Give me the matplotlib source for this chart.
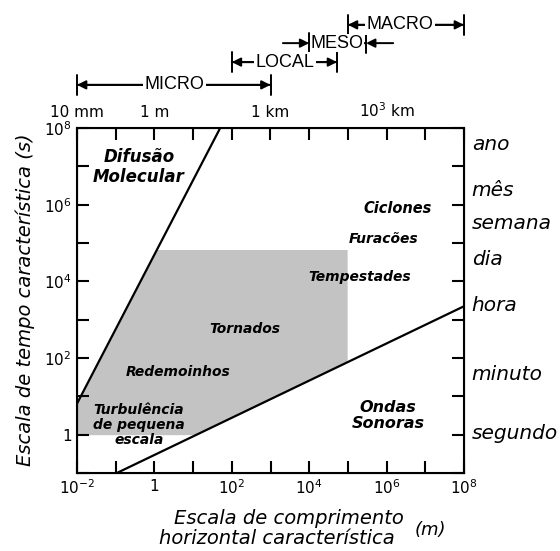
import numpy as np
import matplotlib
matplotlib.use('Agg')
import matplotlib.pyplot as plt
from matplotlib.ticker import NullLocator
import matplotlib.transforms as mtransforms

plt.rcParams['font.family'] = ['DejaVu Sans']

# axes limits (m, s)
XLIM = [1e-2, 1e8]
YLIM = [1e-1, 1e8]

x_decades = [1e-2, 1e-1, 1, 1e1, 1e2, 1e3, 1e4, 1e5, 1e6, 1e7, 1e8]
x_labels = ['$10^{-2}$', '', '1', '', '$10^2$', '', '$10^4$', '', '$10^6$', '', '$10^8$']
y_decades = [1e-1, 1, 1e1, 1e2, 1e3, 1e4, 1e5, 1e6, 1e7, 1e8]
y_labels = ['', '1', '', '$10^2$', '', '$10^4$', '', '$10^6$', '', '$10^8$']
top_labels = ['10 mm', '', '1 m', '', '', '1 km', '', '', '$10^3$ km', '', '']

# right side time names (position in s)
time_names = ['ano', 'mês', 'semana', 'dia', 'hora', 'minuto', 'segundo']
time_pos = [10**7.56, 10**6.38, 10**5.52, 10**4.56, 10**3.38, 10**1.56, 10**0.02]

# boundary lines
diff_L = [1e-2, 10**1.70]
diff_t = [10**0.81, 1e8]
sound_L = [10**-0.97, 1e8]
sound_t = [1e-1, 10**3.35]

# shaded region (atmospheric phenomena)
gray_L = [1e-2, 10**4.98]
gray_t = [1, 10**4.83]

# region names: text, L, t, size
regions = [
    ('Difusão\nMolecular', 10**-0.40, 10**6.98, 12),
    ('Tornados', 10**2.34, 10**2.76, 10),
    ('Redemoinhos', 10**0.61, 10**1.64, 10),
    ('Turbulência\nde pequena\nescala', 10**-0.40, 10**0.25, 10),
    ('Ciclones', 10**6.29, 10**5.91, 10.5),
    ('Furacões', 10**5.91, 10**5.11, 10),
    ('Tempestades', 10**5.31, 10**4.11, 10),
    ('Ondas\nSonoras', 10**6.04, 10**0.49, 11.5),
]

# scale bars: name, start, end, label position, height (axes fraction)
scales = [
    ('MICRO', 1e-2, 1e3, 10**0.52, 1.125),
    ('LOCAL', 1e2, 10**4.72, 10**3.38, 1.191),
    ('MACRO', 1e5, 1e8, 10**6.35, 1.299),
]
meso = ('MESO', 1e4, 10**5.47, 10**3.32, 10**6.17, 10**4.71, 1.246)

fig = plt.figure(figsize=(5.6, 5.51), dpi=100)
ax = fig.add_axes([77 / 560, 78 / 551, 387 / 560, 345 / 551])
ax.set_xscale('log')
ax.set_yscale('log')
ax.set_xlim(XLIM)
ax.set_ylim(YLIM)

# shaded area bounded by the two lines
xs = np.logspace(np.log10(gray_L[0]), np.log10(gray_L[1]), 800)
upper = np.minimum(gray_t[1], 10**np.interp(np.log10(xs), np.log10(diff_L), np.log10(diff_t),
                                             left=np.log10(diff_t[0]), right=np.log10(diff_t[1])))
lower = np.maximum(gray_t[0], 10**np.interp(np.log10(xs), np.log10(sound_L), np.log10(sound_t)))
ax.fill_between(xs, lower, upper, where=upper > lower, color='#c3c3c3', lw=0, zorder=1)

ax.plot(diff_L, diff_t, color='black', lw=1.6, zorder=3)
ax.plot(sound_L, sound_t, color='black', lw=1.6, zorder=3)

for txt, L, t, fs in regions:
    ax.text(L, t, txt, ha='center', va='center', fontsize=fs, fontweight='bold',
            style='italic', linespacing=1.1, zorder=4)

# ticks
for a in [ax.xaxis, ax.yaxis]:
    a.set_minor_locator(NullLocator())
ax.set_xticks(x_decades, x_labels)
ax.set_yticks(y_decades, y_labels)
ax.tick_params(direction='in', length=8.5, width=1.5, labelsize=11, right=True, pad=4)
for s in ax.spines.values():
    s.set_linewidth(1.5)

top = ax.twiny()
top.set_xscale('log')
top.set_xlim(XLIM)
top.xaxis.set_minor_locator(NullLocator())
top.set_xticks(x_decades, top_labels)
top.tick_params(direction='in', length=8.5, width=1.5, labelsize=11, pad=6)

# right side names
trans = mtransforms.blended_transform_factory(ax.transAxes, ax.transData)
for name, t in zip(time_names, time_pos):
    ax.text(1.02, t, name, transform=trans, ha='left', va='center', fontsize=14.5,
            style='italic', clip_on=False)

# scale bars above the plot
tb = mtransforms.blended_transform_factory(ax.transData, ax.transAxes)


def arrow(x_from, x_to, yy):
    ax.annotate('', xy=(x_to, yy), xytext=(x_from, yy), xycoords=tb, textcoords=tb,
                arrowprops=dict(arrowstyle='-|>', lw=1.4, color='black', mutation_scale=13,
                                shrinkA=0, shrinkB=0), annotation_clip=False)


def bars(x0, x1, yy):
    ax.annotate('', xy=(x0, yy), xytext=(x1, yy), xycoords=tb, textcoords=tb,
                arrowprops=dict(arrowstyle='|-|', lw=1.4, mutation_scale=7, shrinkA=0, shrinkB=0),
                annotation_clip=False)


for name, x0, x1, xm, yy in scales:
    bars(x0, x1, yy)
    arrow(xm, x0, yy)
    arrow(xm, x1, yy)
    ax.text(xm, yy, name, transform=tb, ha='center', va='center', fontsize=13,
            family='Liberation Sans', bbox=dict(fc='white', ec='none', pad=1.0),
            clip_on=False, zorder=5)

name, b0, b1, a0, a1, xm, yy = meso
bars(b0, b1, yy)
arrow(a0, b0, yy)
arrow(a1, b1, yy)
ax.text(xm, yy, name, transform=tb, ha='center', va='center', fontsize=13,
        family='Liberation Sans', bbox=dict(fc='white', ec='none', pad=0.3),
        clip_on=False, zorder=5)

# axis titles
fig.text(25 / 560, 1 - 300 / 551, 'Escala de tempo característica (s)', rotation=90,
         ha='center', va='center', fontsize=14, style='italic')
fig.text(289 / 560, 1 - 518 / 551, 'Escala de comprimento', ha='center', va='center',
         fontsize=14, style='italic')
fig.text(277 / 560, 1 - 539 / 551, 'horizontal característica', ha='center', va='center',
         fontsize=14, style='italic')
fig.text(430 / 560, 1 - 530 / 551, '(m)', ha='center', va='center', fontsize=13, style='italic')

fig.savefig('out.png', dpi=100)
